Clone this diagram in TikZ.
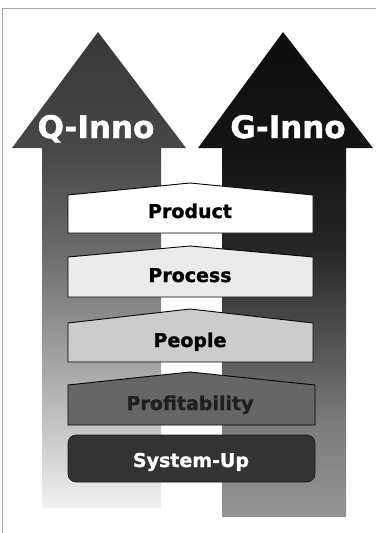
\documentclass[tikz,border=0pt]{standalone}
\usepackage{fontspec}
\setmainfont{DejaVu Sans}
\newfontfamily\heavyfont{DejaVu Sans}[UprightFont={* Bold},FakeBold=1.3]
\pgfdeclareverticalshading{leftarr}{100bp}{color(0bp)=(black!5); color(25bp)=(black!5); color(31bp)=(black!18); color(41.5bp)=(black!38); color(52bp)=(black!58); color(62.5bp)=(black!72); color(75bp)=(black!78); color(100bp)=(black!78)}
\pgfdeclareverticalshading{rightarr}{100bp}{color(0bp)=(black!42); color(25bp)=(black!42); color(35bp)=(black!52); color(42bp)=(black!66); color(52.5bp)=(black!85); color(62.5bp)=(black!92); color(75bp)=(black!95); color(100bp)=(black!95)}
\begin{document}
\begin{tikzpicture}[x=1pt,y=-1pt,
  boxline/.style={draw=black,line width=0.9pt,line join=miter},
  biglabel/.style={font=\heavyfont\fontsize{31}{31}\selectfont,text=white,anchor=base,inner sep=0pt},
  boxlabel/.style={font=\heavyfont\fontsize{19}{19}\selectfont,anchor=base,inner sep=0pt}]
\useasboundingbox (0,0) rectangle (382,533);
% scan frame (top and left)
\draw[gray!70,line width=0.6pt] (2,533) -- (2,8) -- (376,8);
% left arrow
\shade[shading=leftarr]
  (98,32) -- (186,148) -- (161,148) -- (161,508) -- (42,508) -- (42,148) -- (12,148) -- cycle;
% right arrow
\shade[shading=rightarr]
  (283,32) -- (373,148) -- (346,148) -- (346,517) -- (222,517) -- (222,148) -- (198,148) -- cycle;
\node[biglabel] (qinno) at (96,138) {Q-Inno};
\node[biglabel] (ginno) at (288,138) {G-Inno};
% boxes
\draw[boxline,fill=white] (68,195) -- (190,183) -- (313,195) -- (313,233) -- (68,233) -- cycle;
\node[boxlabel] (product) at (190,218) {Product};
\draw[boxline,fill=black!8] (68,257) -- (190,246) -- (313,257) -- (313,297) -- (68,297) -- cycle;
\node[boxlabel] (process) at (190,282) {Process};
\draw[boxline,fill=black!20] (68,323) -- (190,309) -- (313,323) -- (313,362) -- (68,362) -- cycle;
\node[boxlabel] (people) at (190,347) {People};
\draw[boxline,fill=black!60] (68,385) -- (190,372) -- (315,385) -- (315,425) -- (68,425) -- cycle;
\node[boxlabel,text=black!88] (profit) at (190,410) {Profitability};
\draw[fill=black!80,draw=black!90,line width=0.6pt,rounded corners=8pt] (68,435) rectangle (315,482);
\node[boxlabel,text=white] (system) at (191,467) {System-Up};
\end{tikzpicture}
\end{document}
